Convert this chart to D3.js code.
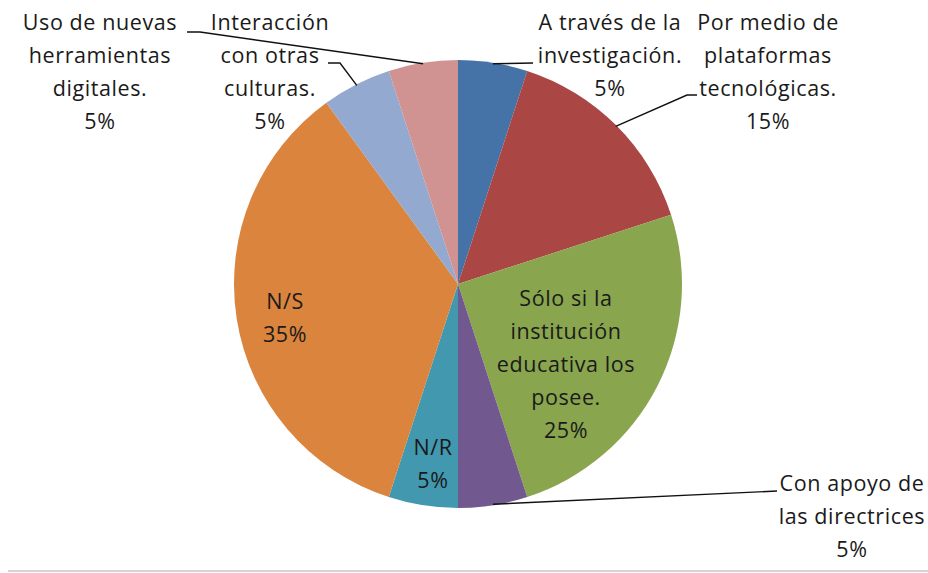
<!DOCTYPE html>
<html><head><meta charset="utf-8">
<script src="https://cdn.jsdelivr.net/npm/d3@7"></script>
<style>html,body{margin:0;padding:0;background:#fff;}svg{display:block;}</style>
</head><body>
<svg id="chart" width="928" height="573"></svg>
<script>
// ---- data ----
const categories = [
  "A través de la investigación.",
  "Por medio de plataformas tecnológicas.",
  "Sólo si la institución educativa los posee.",
  "Con apoyo de las directrices",
  "N/R",
  "N/S",
  "Interacción con otras culturas.",
  "Uso de nuevas herramientas digitales."
];
const values = [5, 15, 25, 5, 5, 35, 5, 5];
const labelLines = [
  ["A través de la", "investigación."],
  ["Por medio de", "plataformas", "tecnológicas."],
  ["Sólo si la", "institución", "educativa los", "posee."],
  ["Con apoyo de", "las directrices"],
  ["N/R"],
  ["N/S"],
  ["Interacción", "con otras", "culturas."],
  ["Uso de nuevas", "herramientas", "digitales."]
];
const colors = ["#4572A7","#AA4643","#89A54E","#71588F","#4198AF","#DB843D","#93A9CF","#D19392"];

// ---- layout (not data) ----
const W = 928, H = 573;
const cx = 458, cy = 284, R = 224;
const lineH = 33;
const labelLayout = [
  {x: 610, y: 22, leader: [[533, 63]]},
  {x: 768, y: 22, leader: [[697, 95], [687, 95]]},
  {x: 566, y: 298, leader: null},
  {x: 852, y: 483, leader: [[777, 491]]},
  {x: 433, y: 447, leader: null},
  {x: 285, y: 301, leader: null},
  {x: 270, y: 22, leader: [[328, 63], [340, 63]]},
  {x: 100, y: 22, leader: [[187, 32], [200, 32]]}
];

const svg = d3.select("#chart");
svg.append("rect").attr("width", W).attr("height", H).attr("fill", "#fff");
svg.append("line").attr("x1", 8).attr("x2", W).attr("y1", 571).attr("y2", 571)
  .attr("stroke", "#d4d4d4").attr("stroke-width", 2);

const total = d3.sum(values);
const angle = d3.scaleLinear().domain([0, total]).range([0, 2 * Math.PI]);
const pie = d3.pie().sort(null).value(d => d)
  .startAngle(angle(0)).endAngle(angle(total));
const arcs = pie(values);
const arc = d3.arc().innerRadius(0).outerRadius(R);
const color = d3.scaleOrdinal().domain(d3.range(values.length)).range(colors);

const g = svg.append("g").attr("transform", `translate(${cx},${cy})`);
g.selectAll("path").data(arcs).join("path")
  .attr("d", arc)
  .attr("fill", (d, i) => color(i))
  .attr("stroke", "none");

// leader lines
arcs.forEach((a, i) => {
  const L = labelLayout[i];
  if (!L.leader) return;
  const mid = (a.startAngle + a.endAngle) / 2;
  const p0 = [cx + (R - 1) * Math.sin(mid), cy - (R - 1) * Math.cos(mid)];
  const pts = [p0, ...L.leader.slice().reverse()];
  svg.append("path")
    .attr("d", d3.line()(pts))
    .attr("fill", "none").attr("stroke", "#111").attr("stroke-width", 1.4);
});

// labels
const fmt = v => d3.format(".0%")(v / total);
arcs.forEach((a, i) => {
  const L = labelLayout[i];
  const lines = [...labelLines[i], fmt(values[i])];
  const t = svg.append("text")
    .attr("text-anchor", "middle")
    .attr("font-family", "'Open Sans', Lato, sans-serif")
    .attr("font-size", 21.5)
    .attr("letter-spacing", 0.6)
    .attr("fill", "#1a1a1a");
  lines.forEach((ln, k) => {
    t.append("tspan").attr("x", L.x).attr("y", L.y + k * lineH)
      .attr("dy", "0.35em").text(ln);
  });
});
</script>
</body></html>
